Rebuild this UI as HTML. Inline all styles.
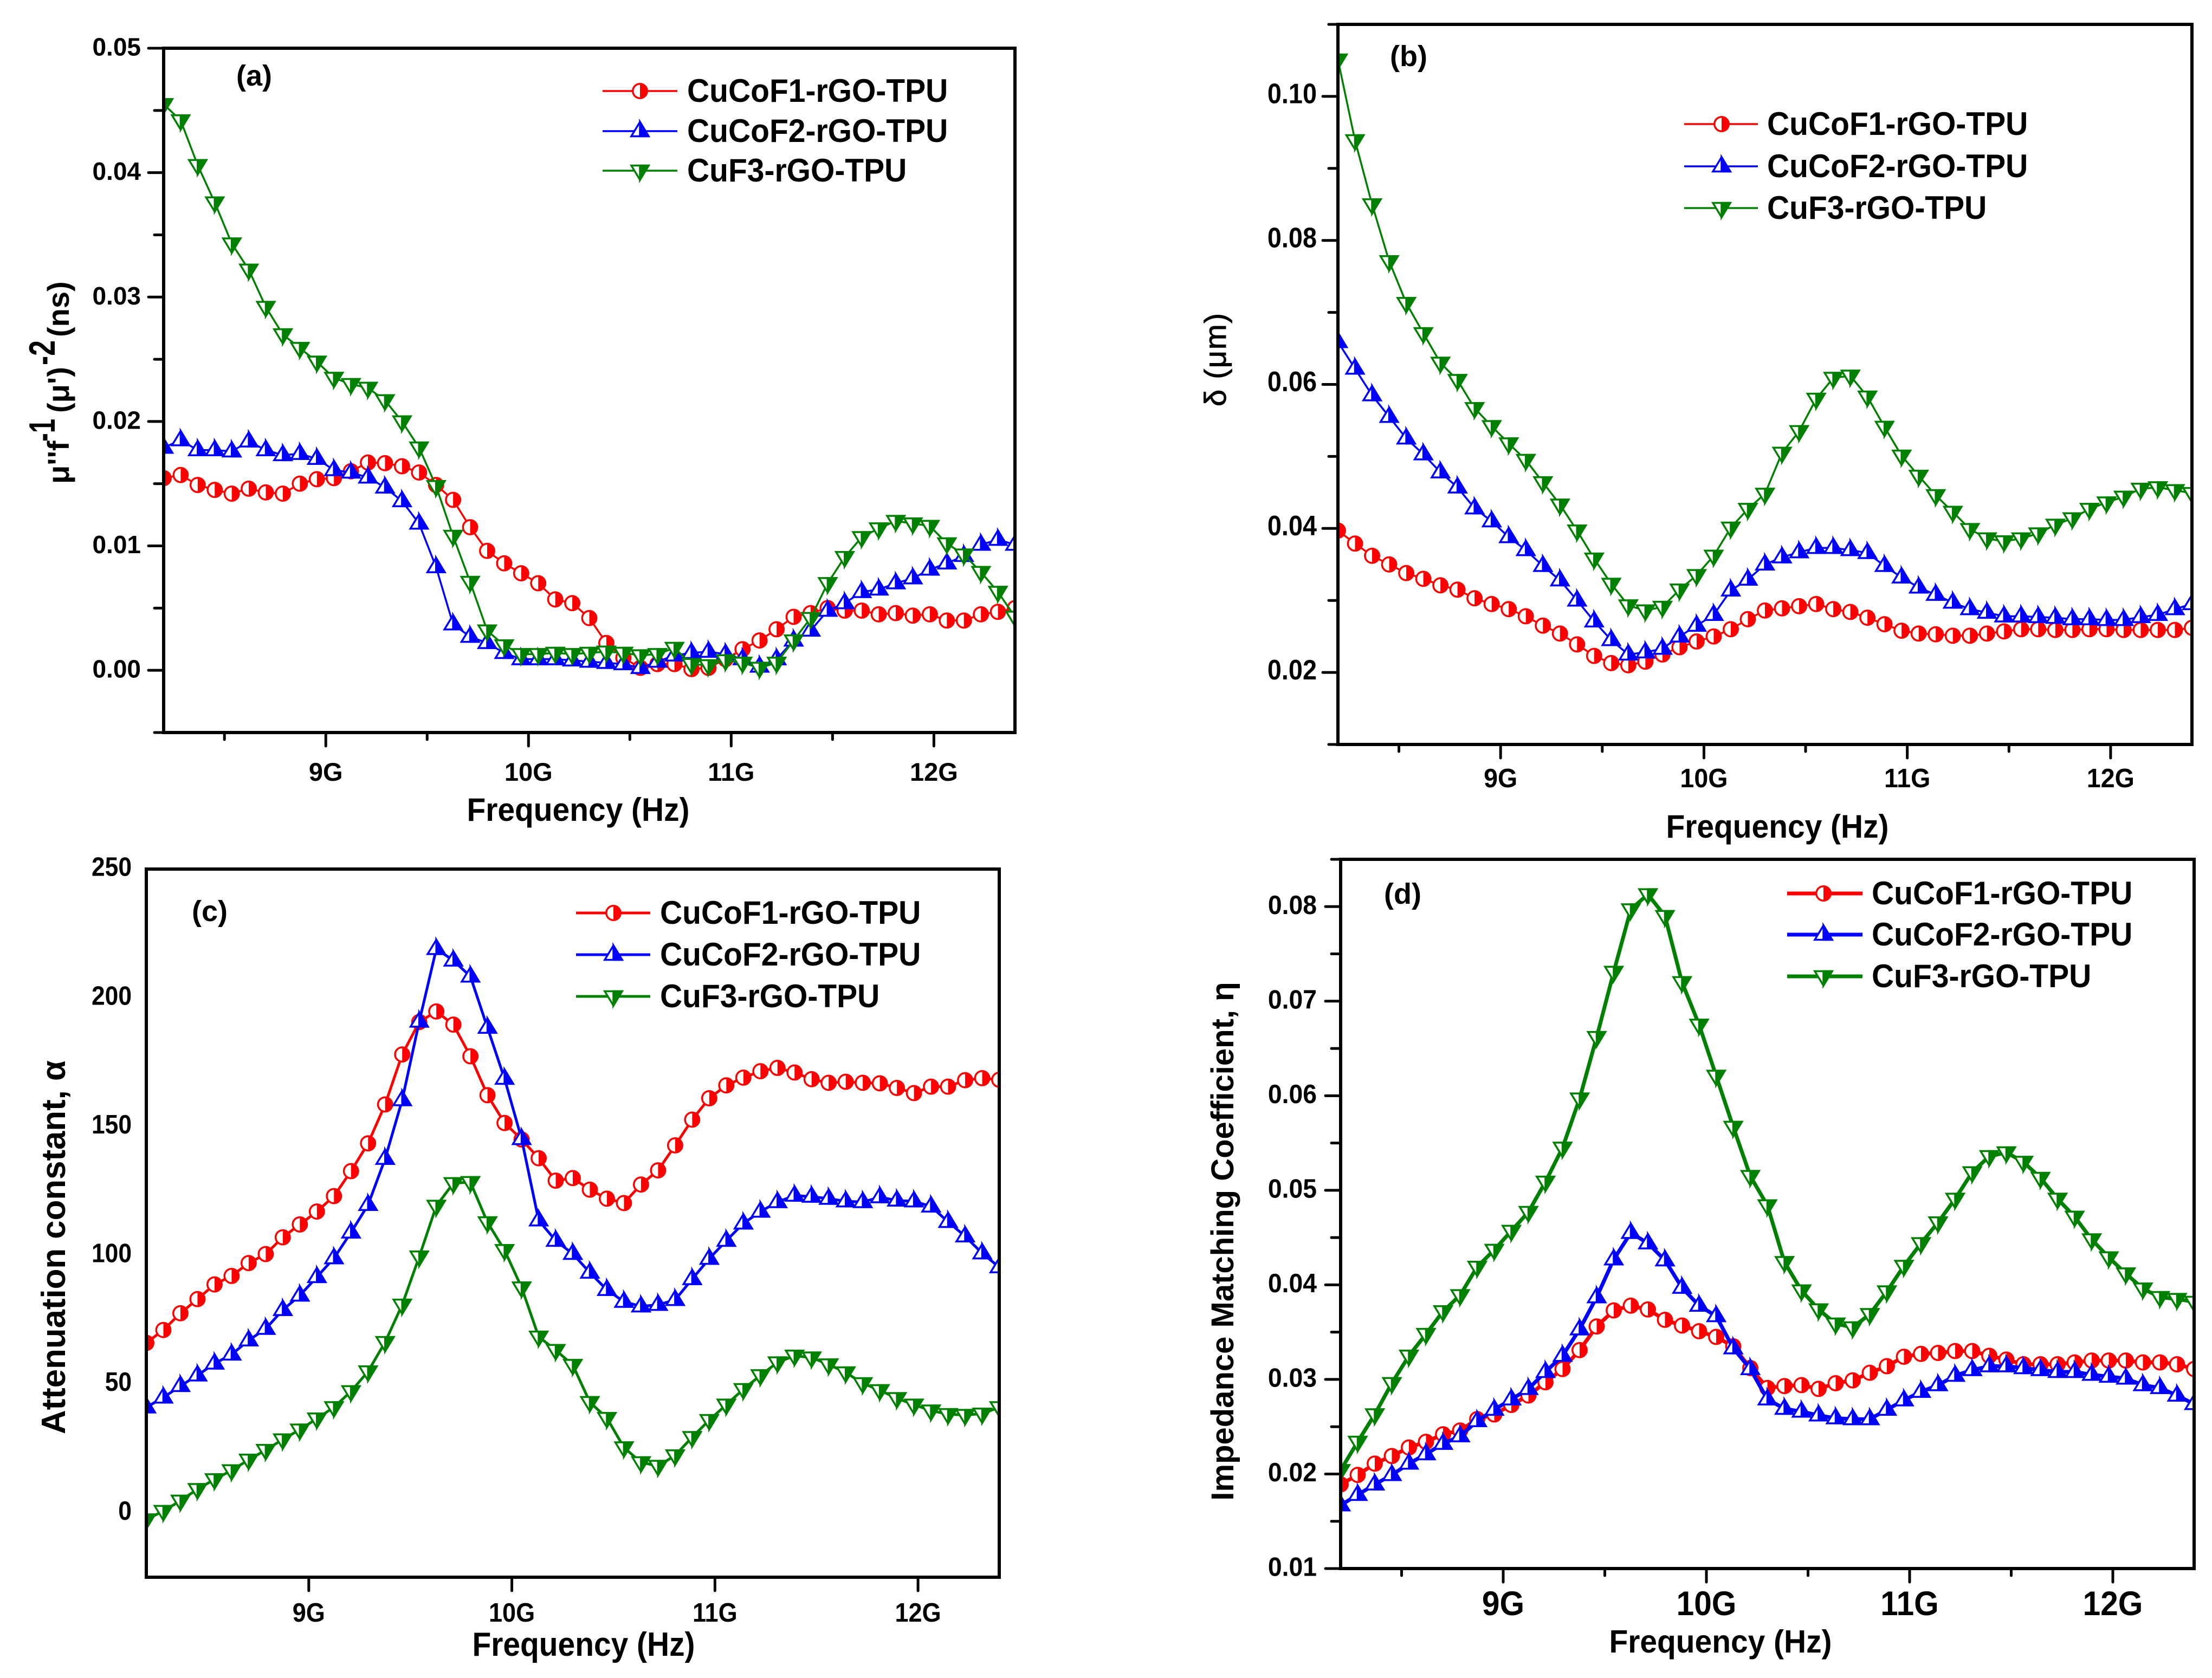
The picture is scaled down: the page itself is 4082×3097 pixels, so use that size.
<!DOCTYPE html>
<html lang="en">
<head>
<meta charset="utf-8">
<title>Frequency-dependent properties of rGO-TPU composites</title>
<style>
html,body{margin:0;padding:0;background:#fff;}
svg{display:block;}
text{font-family:"Liberation Sans",sans-serif;font-weight:bold;fill:#000;}
</style>
</head>
<body>
<svg id="figure" xmlns="http://www.w3.org/2000/svg" width="4082" height="3097" viewBox="0 0 4082 3097">
  <rect x="0" y="0" width="4082" height="3097" fill="#fff"/>

  <text transform="translate(127,893) rotate(-90)" font-size="56"><tspan x="0" y="0">μ''f</tspan><tspan x="78" y="-26" font-size="68" textLength="42" lengthAdjust="spacingAndGlyphs">-1</tspan><tspan x="131" y="0">(μ')</tspan><tspan x="219" y="-26" font-size="68" textLength="46" lengthAdjust="spacingAndGlyphs">-2</tspan><tspan x="271" y="0">(ns)</tspan></text>
  <text transform="translate(2262,664) rotate(-90)" text-anchor="middle" font-size="56" textLength="172" lengthAdjust="spacing" style="font-weight:normal" stroke="#000" stroke-width="1">δ (μm)</text>
  <text transform="translate(120,2302) rotate(-90)" text-anchor="middle" font-size="62" textLength="690" lengthAdjust="spacingAndGlyphs">Attenuation constant, α</text>
  <text transform="translate(2276,2291) rotate(-90)" text-anchor="middle" font-size="58">Impedance Matching Coefficient, η</text>

  <text x="1067" y="1515" text-anchor="middle" font-size="60" textLength="411" lengthAdjust="spacingAndGlyphs">Frequency (Hz)</text>
  <text x="3280" y="1546" text-anchor="middle" font-size="60" textLength="411" lengthAdjust="spacingAndGlyphs">Frequency (Hz)</text>
  <text x="1077" y="3056" text-anchor="middle" font-size="62" textLength="411" lengthAdjust="spacingAndGlyphs">Frequency (Hz)</text>
  <text x="3175" y="3050" text-anchor="middle" font-size="59" textLength="411" lengthAdjust="spacingAndGlyphs">Frequency (Hz)</text>

  <text x="436" y="158" font-size="54">(a)</text>
  <text x="2565" y="122" font-size="54">(b)</text>
  <text x="354" y="1700" font-size="54">(c)</text>
  <text x="2554" y="1668" font-size="54">(d)</text>
</svg>

<script>
// Shared categories and labels
const frequencyGHz = [8.2,8.284,8.368,8.452,8.536,8.62,8.704,8.788,8.872,8.956,9.04,9.124,9.208,9.292,9.376,9.46,9.544,9.628,9.712,9.796,9.88,9.964,10.048,10.132,10.216,10.3,10.384,10.468,10.552,10.636,10.72,10.804,10.888,10.972,11.056,11.14,11.224,11.308,11.392,11.476,11.56,11.644,11.728,11.812,11.896,11.98,12.064,12.148,12.232,12.316,12.4];
const seriesNames = ['CuCoF1-rGO-TPU','CuCoF2-rGO-TPU','CuF3-rGO-TPU'];
const xTickValues = [9,10,11,12];
const xTickLabels = ['9G','10G','11G','12G'];
const xMinorTickValues = [8.5,9.5,10.5,11.5];

// Panel (a)
const aTickValues = [0,0.01,0.02,0.03,0.04,0.05];
const aTickLabels = ['0.00','0.01','0.02','0.03','0.04','0.05'];
const aCuCoF1 = [.01545,.0157,.0149,.0145,.0142,.0146,.0143,.0142,.015,.01536,.01545,.016,.0167,.01665,.0164,.0159,.0149,.0137,.0115,.0096,.0086,.0078,.007,.0057,.0054,.0042,.0022,.001,.0002,.0005,.0005,.0001,.0002,.0009,.0017,.0024,.0033,.0043,.0046,.005,.0048,.0048,.0045,.0046,.0044,.0045,.004,.004,.0045,.0047,.005];
const aCuCoF2 = [.0179,.0185,.0177,.0177,.0176,.0184,.0177,.0173,.0174,.017,.0161,.0159,.0155,.0147,.0136,.0118,.0083,.0037,.0027,.0022,.0014,.0009,.0009,.0009,.0008,.0007,.0006,.0005,.0002,.0007,.0012,.0014,.0015,.0013,.0009,.0003,.0009,.0024,.0032,.0048,.0054,.0063,.0065,.007,.0074,.0081,.0086,.0092,.0101,.0105,.0101];
const aCuF3 = [.0455,.0442,.0406,.0376,.0343,.0322,.0292,.027,.0259,.0248,.0235,.023,.0227,.0217,.02,.0179,.0148,.0108,.0071,.0032,.002,.0013,.0013,.0014,.0013,.0014,.0015,.0014,.0012,.0013,.0018,.0005,.0004,.0008,.0006,.0002,.0006,.0024,.0042,.007,.0091,.0107,.0114,.012,.0118,.0116,.0102,.0093,.0079,.0063,.0043];

// Panel (b)
const bTickValues = [0.02,0.04,0.06,0.08,0.10];
const bTickLabels = ['0.02','0.04','0.06','0.08','0.10'];
const bCuCoF1 = [.0397,.0379,.0362,.035,.0338,.033,.0321,.0315,.0303,.0295,.0288,.0278,.0265,.0254,.0239,.0223,.0213,.021,.0215,.0225,.0235,.0243,.025,.026,.0274,.0286,.0289,.0292,.0295,.0288,.0284,.0276,.0267,.0258,.0254,.0253,.0251,.0251,.0254,.0257,.026,.026,.0259,.0259,.026,.026,.0259,.0259,.0259,.0259,.0262];
const bCuCoF2 = [.0659,.0622,.0585,.0555,.0525,.0503,.0478,.0457,.0428,.041,.0388,.037,.0348,.0328,.03,.0271,.0245,.0225,.0228,.0233,.025,.0265,.028,.0314,.0329,.035,.036,.0367,.0373,.0373,.037,.0366,.0348,.0332,.0318,.0308,.0297,.0288,.0283,.0278,.0278,.0277,.0276,.0274,.0274,.0273,.0273,.0277,.028,.0288,.0295];
const bCuF3 = [.1051,.0939,.085,.0771,.0713,.0671,.063,.0606,.0567,.0542,.0518,.0495,.0464,.0433,.0397,.0358,.0323,.0293,.0286,.0291,.0315,.0335,.0362,.0401,.0427,.0448,.0505,.0535,.058,.0609,.0612,.0583,.0541,.0501,.0473,.0446,.0423,.0399,.0386,.0382,.0386,.0393,.0405,.0414,.0427,.0436,.0444,.0455,.0457,.0453,.0449];

// Panel (c)
const cTickValues = [0,50,100,150,200,250];
const cTickLabels = ['0','50','100','150','200','250'];
const cCuCoF1 = [66,71,77.5,83,88.7,92,97,100.5,107,112,117,123,132.7,143.5,158.6,178,190.6,194.7,189.6,177.3,162.2,151.4,145,137.7,129,130,125.5,122,120.3,127.5,133,142.7,152.7,161,166,169,171.5,172.8,171,168.4,167,167.4,167,166.8,165,163,165.5,165.5,168,168.8,168.2];
const cCuCoF2 = [41,44.8,49.3,53.4,58,61.5,67,71.5,78.8,84.4,91.6,98.9,108.9,119.6,137.5,160.3,190.8,219,214.5,208.3,188.4,168.6,145.2,113.6,105.7,100.6,93.3,86.6,82,80.2,80.8,82.7,90.8,98.7,105.7,112.4,117,120.7,123.2,122.8,122,121,120.7,122.6,121.3,121,119,113,107.4,100.8,95.4];
const cCuF3 = [-2.6,.7,4.7,9.2,13,16.5,20.6,24.4,28.5,32.3,36.6,41,47.2,54.9,66.3,80.8,99.5,119.2,128,128.4,112.8,102,87.5,68.4,63.2,57.4,43,36.8,25.4,19.6,18.2,22.3,29.4,36,42,48,53.4,58.4,61,60.3,57.6,54.5,50.3,47.6,44.5,42,39.7,38.3,38,38.5,41];

// Panel (d)
const dTickValues = [0.01,0.02,0.03,0.04,0.05,0.06,0.07,0.08];
const dTickLabels = ['0.01','0.02','0.03','0.04','0.05','0.06','0.07','0.08'];
const dCuCoF1 = [.0189,.0199,.0211,.0219,.0228,.0234,.0242,.0246,.0258,.0263,.0273,.0283,.0297,.0311,.0331,.0356,.0373,.0378,.0374,.0363,.0357,.0351,.0345,.0335,.0312,.0291,.0293,.0294,.029,.0296,.0299,.0307,.0314,.0324,.0327,.0328,.033,.033,.0325,.0321,.0316,.0316,.0316,.0318,.032,.032,.032,.0318,.0318,.0316,.0311];
const dCuCoF2 = [.0167,.0178,.0189,.0199,.0211,.0221,.0232,.024,.0256,.0268,.0279,.029,.0308,.0325,.0353,.0387,.0427,.0455,.0444,.0426,.0397,.0378,.0367,.0333,.0311,.0279,.0269,.0266,.0262,.0259,.0258,.0258,.0268,.0278,.0287,.0294,.0304,.031,.0314,.0314,.0312,.031,.0308,.0308,.0305,.0303,.0301,.0294,.0291,.0283,.0274];
const dCuF3 = [.0204,.0234,.0263,.0296,.0325,.0348,.0372,.0389,.0419,.0437,.0457,.0477,.0509,.0545,.0597,.0662,.0731,.0797,.0813,.079,.072,.0675,.0621,.0567,.0515,.0484,.0424,.0394,.0374,.0359,.0355,.0369,.0393,.042,.0444,.0466,.0491,.0519,.0536,.054,.053,.0513,.0491,.0472,.0448,.0429,.0412,.0396,.0387,.0385,.0382];

const NS = 'http://www.w3.org/2000/svg';
const svg = document.getElementById('figure');
const seriesColors = ['#ff0000','#0000ff','#008000'];
const seriesKeys = ['cucof1','cucof2','cuf3'];

const panels = [
  {id:'a', L:302, R:1873, T:89, B:1352, yMin:-0.005, yMax:0.05, ticks:aTickValues, labels:aTickLabels, series:[aCuCoF1,aCuCoF2,aCuF3], lw:3.5, yFont:46, yRatio:1, labelDy:-3, xFont:47, xRatio:1, xBase:1441, yMinor:true, xMinor:true, labelRight:260, legend:{x1:1112,x2:1250,mx:1181,tx:1268,ys:[168,242,315]}},
  {id:'b', L:2469, R:4045, T:45, B:1374, yMin:0.01, yMax:0.11, ticks:bTickValues, labels:bTickLabels, series:[bCuCoF1,bCuCoF2,bCuF3], lw:3.5, yFont:52, yRatio:0.9, labelDy:-6, xFont:49, xRatio:0.95, xBase:1453, yMinor:true, xMinor:true, labelRight:2430, legend:{x1:3108,x2:3244,mx:3177,tx:3261,ys:[229,307,384]}},
  {id:'c', L:270, R:1844, T:1604, B:2911, yMin:-25, yMax:250, ticks:cTickValues, labels:cTickLabels, series:[cCuCoF1,cCuCoF2,cCuF3], lw:5, yFont:49, yRatio:0.905, labelDy:-5, xFont:49, xRatio:0.92, xBase:2993, yMinor:false, xMinor:false, labelRight:243, legend:{x1:1063,x2:1200,mx:1132,tx:1218,ys:[1685,1762,1839]}},
  {id:'d', L:2474, R:4049, T:1586, B:2895, yMin:0.01, yMax:0.085, ticks:dTickValues, labels:dTickLabels, series:[dCuCoF1,dCuCoF2,dCuF3], lw:7, yFont:49, yRatio:0.945, labelDy:-4, xFont:63, xRatio:0.93, xBase:2981, yMinor:true, xMinor:true, labelRight:2430, legend:{x1:3298,x2:3437,mx:3365,tx:3454,ys:[1649,1725,1802]}}
];

function xScale(p, v){ return p.L + (v - 8.2) / 4.2 * (p.R - p.L); }
function yScale(p, v){ return p.B - (v - p.yMin) / (p.yMax - p.yMin) * (p.B - p.T); }

function svgEl(tag, attrs, parent){
  const el = document.createElementNS(NS, tag);
  for (const k in attrs) el.setAttribute(k, attrs[k]);
  parent.appendChild(el);
  return el;
}

function squeeze(el, ratio){
  if (ratio === 1) return;
  el.setAttribute('textLength', (el.getComputedTextLength() * ratio).toFixed(1));
  el.setAttribute('lengthAdjust', 'spacingAndGlyphs');
}

function drawMarker(group, kind, cx, cy, color){
  if (kind === 0){
    const r = 13.2;
    const c = svgEl('circle', {cx:cx, cy:cy, r:r, fill:'#fff', stroke:color, 'stroke-width':3.5}, group);
    
    
    const h = svgEl('path', {d:`M${cx},${cy-r}A${r},${r} 0 0 1 ${cx},${cy+r}Z`, fill:color}, group);
    
    
  } else {
    const s = kind === 1 ? 1 : -1;
    const apex = cy - s * 17;
    const base = cy + s * 9.5;
    const t = svgEl('polygon', {points:`${cx},${apex} ${cx+16},${base} ${cx-16},${base}`, fill:'#fff', stroke:color, 'stroke-width':3.5, 'stroke-miterlimit':6}, group);
    
    
    const h = svgEl('polygon', {points:`${cx},${apex} ${cx+16},${base} ${cx},${base}`, fill:color, stroke:color, 'stroke-width':3.5, 'stroke-miterlimit':6}, group);
    
    
  }
}

function drawTick(group, x1, y1, x2, y2){
  const t = svgEl('line', {x1:x1, y1:y1, x2:x2, y2:y2, stroke:'#000', 'stroke-width':5, 'stroke-linecap':'round'}, group);
  
  
}

const defs = svgEl('defs', {}, svg);

panels.forEach(function(p){
  const clip = svgEl('clipPath', {id:'clip-' + p.id}, defs);
  svgEl('rect', {x:p.L, y:p.T, width:p.R - p.L, height:p.B - p.T}, clip);

  const panel = svgEl('g', {}, svg);
  
  

  // Series
  const plot = svgEl('g', {'clip-path':'url(#clip-' + p.id + ')'}, panel);
  
  
  p.series.forEach(function(values, k){
    const g = svgEl('g', {}, plot);
    
    
    const pts = values.map(function(v, i){ return xScale(p, frequencyGHz[i]).toFixed(1) + ',' + yScale(p, v).toFixed(1); }).join(' ');
    const line = svgEl('polyline', {points:pts, fill:'none', stroke:seriesColors[k], 'stroke-width':p.lw, 'stroke-linejoin':'round'}, g);
    
    
    values.forEach(function(v, i){
      drawMarker(g, k, xScale(p, frequencyGHz[i]), yScale(p, v), seriesColors[k]);
    });
  });

  // Frame
  const frame = svgEl('rect', {x:p.L, y:p.T, width:p.R - p.L, height:p.B - p.T, fill:'none', stroke:'#000', 'stroke-width':6}, panel);
  
  

  // X axis
  const xAxis = svgEl('g', {}, panel);
  
  
  xTickValues.forEach(function(v, i){
    const x = xScale(p, v);
    drawTick(xAxis, x, p.B, x, p.B + 25);
    const label = svgEl('text', {x:x, y:p.xBase, 'text-anchor':'middle', 'font-size':p.xFont}, xAxis);
    
    
    label.textContent = xTickLabels[i];
    squeeze(label, p.xRatio);
  });
  if (p.xMinor){
    xMinorTickValues.forEach(function(v){
      const x = xScale(p, v);
      drawTick(xAxis, x, p.B, x, p.B + 13);
    });
  }

  // Y axis
  const yAxis = svgEl('g', {}, panel);
  
  
  p.ticks.forEach(function(v, i){
    const y = yScale(p, v);
    if (p.yMinor) drawTick(yAxis, p.L, y, p.L - 28, y);
    const label = svgEl('text', {x:p.labelRight, y:y + p.labelDy + p.yFont * 0.36, 'text-anchor':'end', 'font-size':p.yFont}, yAxis);
    
    
    label.textContent = p.labels[i];
    squeeze(label, p.yRatio);
  });
  if (p.yMinor){
    const step = p.ticks[1] - p.ticks[0];
    for (let i = -1; i < p.ticks.length; i++){
      const v = p.ticks[0] + (i + 0.5) * step;
      if (v < p.yMin - 1e-9 || v > p.yMax + 1e-9) continue;
      const y = yScale(p, v);
      drawTick(yAxis, p.L, y, p.L - 17, y);
    }
    if (p.id === 'b'){
      drawTick(yAxis, p.L, yScale(p, p.yMax), p.L - 17, yScale(p, p.yMax));
      drawTick(yAxis, p.L, yScale(p, p.yMin), p.L - 17, yScale(p, p.yMin));
    }
  }

  // Legend
  const legend = svgEl('g', {}, panel);
  
  
  seriesNames.forEach(function(name, k){
    const y = p.legend.ys[k];
    const row = svgEl('g', {}, legend);
    
    
    const l = svgEl('line', {x1:p.legend.x1, x2:p.legend.x2, y1:y, y2:y, stroke:seriesColors[k], 'stroke-width':p.lw}, row);
    
    
    drawMarker(row, k, p.legend.mx, y, seriesColors[k]);
    const t = svgEl('text', {x:p.legend.tx, y:y + 20, 'font-size':60}, row);
    
    
    t.textContent = name;
    squeeze(t, 0.95);
  });
});
</script>
</body>
</html>
